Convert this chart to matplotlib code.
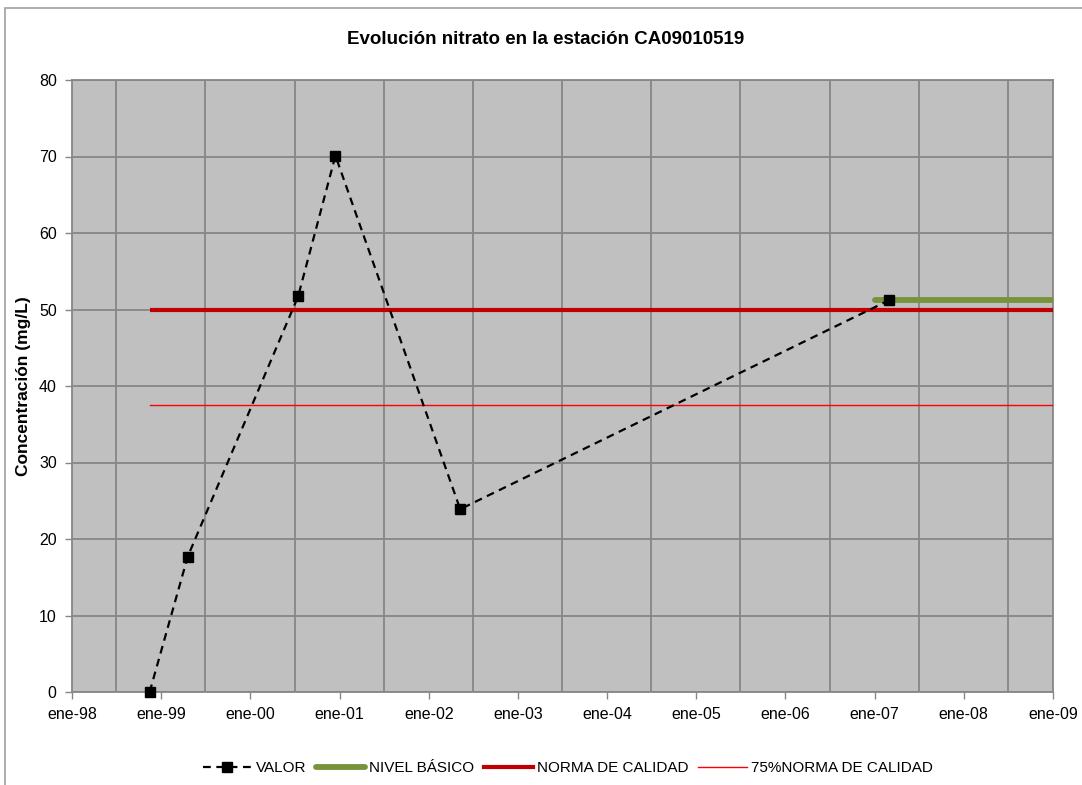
import datetime as dt
import matplotlib
matplotlib.use('Agg')
import matplotlib.pyplot as plt
import matplotlib.dates as mdates
from matplotlib.patches import Rectangle
from matplotlib.lines import Line2D

plt.rcParams['font.family'] = ['Liberation Sans', 'DejaVu Sans']

# datos
fechas = ['1998-11-15', '1999-04-20', '2000-07-15', '2000-12-15', '2002-05-10', '2007-03-01']
valores = [0.0, 17.7, 51.7, 70.1, 23.9, 51.2]
norma_fechas = ['1998-11-15', '2009-01-01']
norma = [50.0, 50.0]
norma75 = [37.5, 37.5]
basico_fechas = ['2007-01-01', '2009-01-01']
basico = [51.2, 51.2]
meses = ['ene', 'feb', 'mar', 'abr', 'may', 'jun', 'jul', 'ago', 'sep', 'oct', 'nov', 'dic']

def d(lst):
    return [dt.datetime.strptime(s, '%Y-%m-%d') for s in lst]

fig = plt.figure(figsize=(10.82, 7.85), dpi=100)
fig.patches.append(Rectangle((5/1082, -0.1), 1.2, 1.1 - 8/785, transform=fig.transFigure,
                             fill=False, edgecolor='#a0a0a0', linewidth=1.2))
ax = fig.add_axes([72/1082, 1 - 692/785, (1053-72)/1082, (692-80)/785])
ax.set_facecolor('#c0c0c0')

ax.plot(d(norma_fechas), norma, color='#c00000', lw=3, solid_capstyle='butt', zorder=3)
ax.plot(d(norma_fechas), norma75, color='#ff0000', lw=1.0, zorder=3)
ax.plot(d(basico_fechas), basico, color='#77933c', lw=4.2, solid_capstyle='round', zorder=3)
ax.plot(d(fechas), valores, color='black', lw=1.6, ls=(0, (3.5, 2.5)), marker='s', ms=6.5, zorder=4,
        clip_on=False)

ax.set_xlim(dt.datetime(1998, 1, 1), dt.datetime(2009, 1, 1))
ax.set_ylim(0, 80)
ax.set_yticks(range(0, 81, 10))
ax.xaxis.set_major_locator(mdates.YearLocator())
ax.xaxis.set_minor_locator(mdates.MonthLocator(bymonth=[1, 7]))
ax.xaxis.set_major_formatter(plt.FuncFormatter(
    lambda x, p: '%s-%02d' % (meses[mdates.num2date(x).month - 1], mdates.num2date(x).year % 100)))
ax.grid(True, which='minor', axis='x', color='#868686', lw=1.3)
ax.grid(True, which='major', axis='y', color='#868686', lw=1.3)
ax.set_axisbelow(True)
for s in ax.spines.values():
    s.set_color('#868686')
    s.set_linewidth(1.3)
ax.tick_params(axis='both', which='major', length=5, color='#868686', width=1, labelsize=11.5, pad=6)
ax.tick_params(axis='x', which='minor', length=0)

ax.set_ylabel('Concentración (mg/L)', fontsize=12.5, fontweight='bold', labelpad=6)
fig.text(546/1082, 1 - 40/785, 'Evolución nitrato en la estación CA09010519', ha='center', va='center',
         fontsize=13.5, fontweight='bold')

handles = [Line2D([], [], color='black', lw=1.6, ls=(0, (3.5, 2.5)), marker='s', ms=6.5),
           Line2D([], [], color='#77933c', lw=4.2, solid_capstyle='round'),
           Line2D([], [], color='#c00000', lw=3),
           Line2D([], [], color='#ff0000', lw=1.0)]
labels = ['VALOR', 'NIVEL BÁSICO', 'NORMA DE CALIDAD', '75%NORMA DE CALIDAD']
fig.legend(handles, labels, loc='center', bbox_to_anchor=(568/1082, 1 - 768/785), ncol=4, frameon=False,
           fontsize=11, handlelength=3.2, handletextpad=0.3, columnspacing=0.6)

fig.savefig('out.png', dpi=100)
